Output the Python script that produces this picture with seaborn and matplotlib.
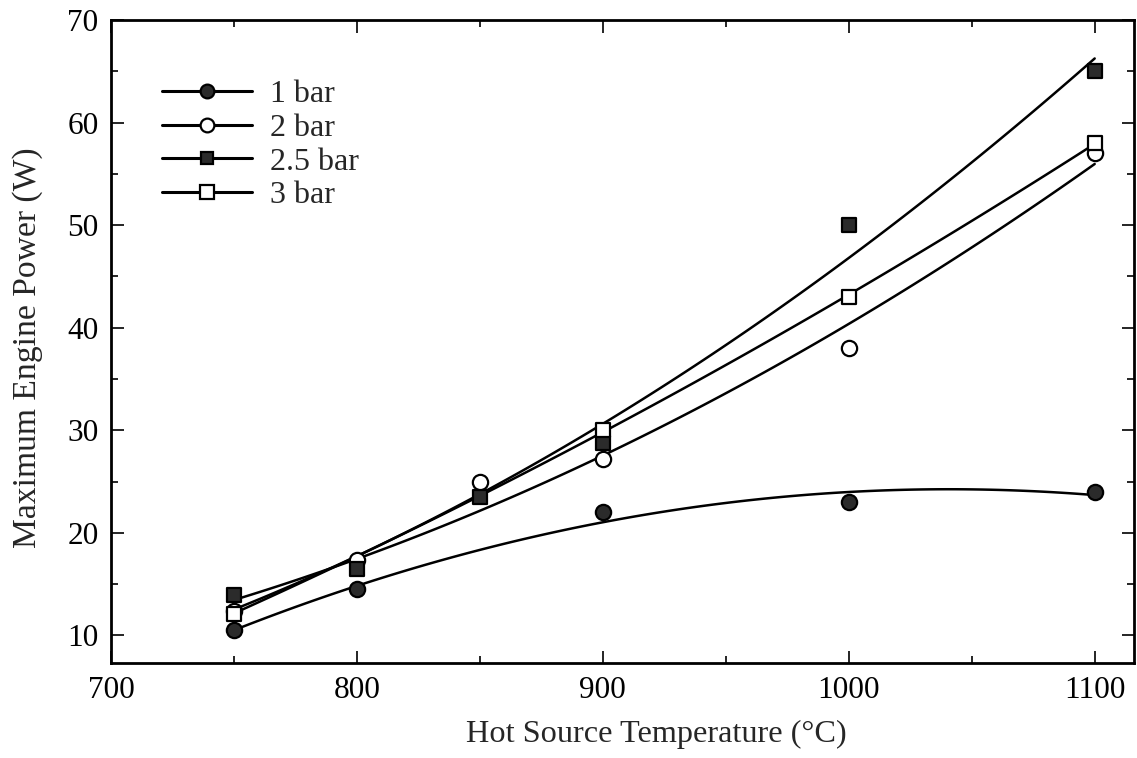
import matplotlib
matplotlib.use("Agg")
import matplotlib.pyplot as plt
from matplotlib.lines import Line2D
from matplotlib.ticker import MultipleLocator
import seaborn as sns
import pandas as pd

# ---- data ----
temp_1bar = [750, 800, 900, 1000, 1100]
power_1bar = [10.5, 14.5, 22.0, 23.0, 24.0]

temp_2bar = [750, 800, 850, 900, 1000, 1100]
power_2bar = [12.4, 17.3, 25.0, 27.2, 38.0, 57.0]

temp_25bar = [750, 800, 850, 900, 1000, 1100]
power_25bar = [13.9, 16.5, 23.5, 28.8, 50.0, 65.0]

temp_3bar = [750, 900, 1000, 1100]
power_3bar = [12.1, 30.0, 43.0, 58.0]

series_labels = ["1 bar", "2 bar", "2.5 bar", "3 bar"]

sns.set_style("ticks")
plt.rcParams["font.family"] = ["Liberation Serif", "DejaVu Serif"]

fig = plt.figure(figsize=(11.37, 7.58), dpi=100)
ax = fig.add_axes([0.0976, 0.1253, 0.8998, 0.8483])

series = [
    (temp_1bar, power_1bar, "o", "#2b2b2b", 11.0, 3),
    (temp_2bar, power_2bar, "o", "white", 11.0, 3),
    (temp_25bar, power_25bar, "s", "#2b2b2b", 9.8, 3),
    (temp_3bar, power_3bar, "s", "white", 10.5, 4),
]

handles = []
for (xs, ys, mk, fc, ms, z), lab in zip(series, series_labels):
    df = pd.DataFrame({"T": xs, "P": ys})
    sns.regplot(data=df, x="T", y="P", order=2, ci=None, truncate=True,
                scatter=False, ax=ax,
                line_kws=dict(color="black", lw=1.8, zorder=2))
    sns.scatterplot(data=df, x="T", y="P", marker=mk, s=ms ** 2,
                    facecolor=fc, edgecolor="black", linewidth=1.6,
                    ax=ax, zorder=z, legend=False)
    handles.append(Line2D([], [], color="black", lw=2.2, marker=mk,
                          markersize=ms * 0.9, markerfacecolor=fc,
                          markeredgecolor="black", markeredgewidth=1.6,
                          label=lab))

ax.set_xlim(700, 1116)
ax.set_ylim(7.3, 70)
ax.xaxis.set_major_locator(MultipleLocator(100))
ax.xaxis.set_minor_locator(MultipleLocator(50))
ax.set_yticks([10, 20, 30, 40, 50, 60, 70])
ax.yaxis.set_minor_locator(MultipleLocator(5))

ax.tick_params(which="both", direction="in", top=True, right=True,
               colors="black", labelsize=22.5)
ax.tick_params(which="major", length=9, width=1.2, pad=9)
ax.tick_params(which="minor", length=5, width=1.2)
for sp in ax.spines.values():
    sp.set_linewidth(2.0)
    sp.set_color("black")

ax.set_xlabel("Hot Source Temperature (°C)", fontsize=23.2)
ax.xaxis.set_label_coords(0.533, -0.088)
ax.set_ylabel("Maximum Engine Power (W)", fontsize=24.2)
ax.yaxis.set_label_coords(-0.066, 0.49)

leg = ax.legend(handles=handles, loc="upper left", frameon=False,
                fontsize=23, handlelength=2.82, handletextpad=0.56,
                labelspacing=0.14, bbox_to_anchor=(0.022, 0.952))

fig.savefig("out.png", dpi=100)
